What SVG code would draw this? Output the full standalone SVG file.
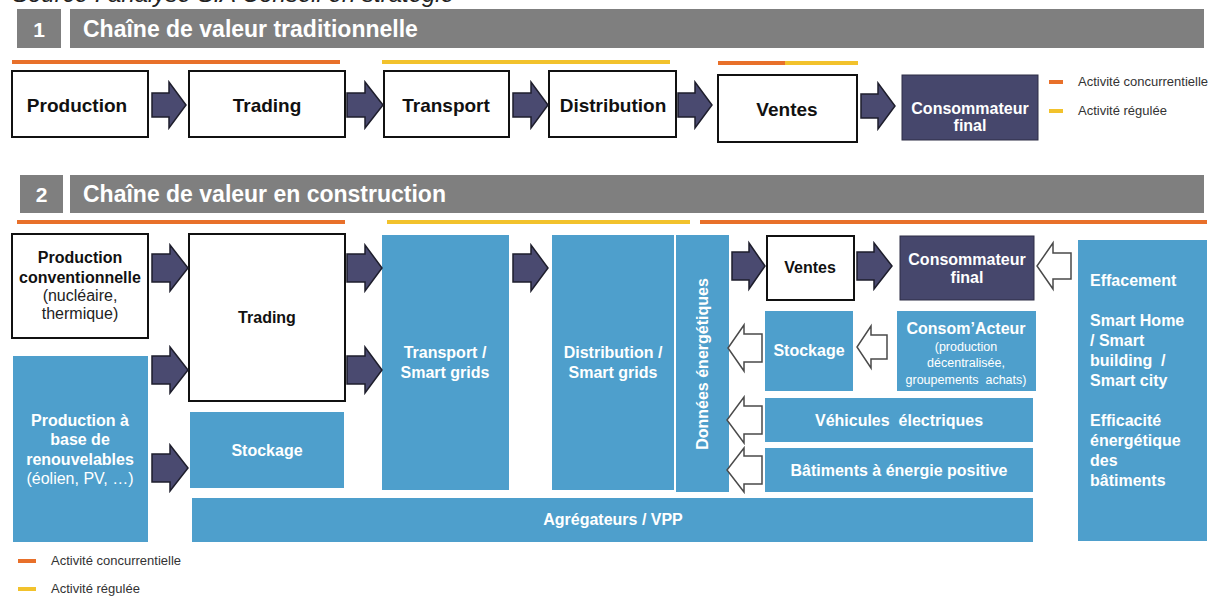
<svg xmlns="http://www.w3.org/2000/svg" width="1211" height="596" viewBox="0 0 1211 596">
  <style>
    text { font-family: "Liberation Sans", Arial, sans-serif; }
    .hdr { fill: #7f7f7f; }
    .hdrtxt { fill: #ffffff; font-weight: bold; font-size: 23px; }
    .num { fill: #ffffff; font-weight: bold; font-size: 21px; text-anchor: middle; }
    .wbox { fill: #ffffff; stroke: #111111; stroke-width: 2; }
    .navy { fill: #46476c; stroke: #2c2d45; stroke-width: 1; }
    .blue { fill: #4e9fcc; }
    .t1 { font-weight: bold; font-size: 19px; fill: #111111; text-anchor: middle; }
    .t2 { font-weight: bold; font-size: 16px; fill: #111111; text-anchor: middle; }
    .t2r { font-size: 16px; fill: #222222; text-anchor: middle; }
    .w15 { font-weight: bold; font-size: 16px; fill: #ffffff; text-anchor: middle; }
    .w16 { font-weight: bold; font-size: 16px; fill: #ffffff; text-anchor: middle; }
    .w16l { font-weight: bold; font-size: 16px; fill: #ffffff; }
    .w16r { font-size: 16px; fill: #ffffff; text-anchor: middle; }
    .wsm { font-size: 12.5px; fill: #ffffff; text-anchor: middle; }
    .leg { font-size: 13px; fill: #333333; }
    .orange { stroke: #e8702a; stroke-width: 4; }
    .yellow { stroke: #f2c22c; stroke-width: 4; }
    .fa { fill: #4a4a70; stroke: #1e1e2c; stroke-width: 1.5; stroke-linejoin: miter; }
    .ha { fill: #ffffff; stroke: #4a4a4a; stroke-width: 1.5; stroke-linejoin: miter; }
  </style>

  <!-- source line, cut at the top edge -->
  <text x="12" y="2" font-size="24" font-style="italic" fill="#222222">Source : analyse SIA Conseil en stratégie</text>

  <!-- ===== Section 1 : traditional chain ===== -->
  <g id="header-1">
    <rect class="hdr" x="17" y="9" width="44" height="39"/>
    <text class="num" x="39" y="37">1</text>
    <rect class="hdr" x="70" y="9" width="1134" height="39"/>
    <text class="hdrtxt" x="83" y="37">Chaîne de valeur traditionnelle</text>
  </g>

  <g id="activity-bars-1">
    <line class="orange" x1="12" y1="62" x2="340" y2="62"/>
    <line class="yellow" x1="382" y1="62" x2="670" y2="62"/>
    <line class="orange" x1="718" y1="63" x2="785" y2="63"/>
    <line class="yellow" x1="785" y1="63" x2="858" y2="63"/>
  </g>

  <g id="s1-production">
    <rect class="wbox" x="12" y="71" width="136" height="66"/>
    <text class="t1" x="77" y="112">Production</text>
  </g>
  <g id="s1-trading">
    <rect class="wbox" x="189" y="71" width="156" height="66"/>
    <text class="t1" x="267" y="112">Trading</text>
  </g>
  <g id="s1-transport">
    <rect class="wbox" x="384" y="71" width="125" height="66"/>
    <text class="t1" x="446" y="112">Transport</text>
  </g>
  <g id="s1-distribution">
    <rect class="wbox" x="549" y="71" width="127" height="66"/>
    <text class="t1" x="613" y="112">Distribution</text>
  </g>
  <g id="s1-ventes">
    <rect class="wbox" x="718" y="75" width="139" height="67"/>
    <text class="t1" x="787" y="116">Ventes</text>
  </g>
  <g id="s1-consommateur">
    <rect class="navy" x="902" y="75" width="136" height="65"/>
    <text class="w15" x="970" y="114">Consommateur</text>
    <text class="w15" x="970" y="131">final</text>
  </g>

  <g id="legend-top">
    <line class="orange" x1="1049" y1="82" x2="1063" y2="82"/>
    <text class="leg" x="1078" y="86">Activité concurrentielle</text>
    <line class="yellow" x1="1049" y1="111" x2="1063" y2="111"/>
    <text class="leg" x="1078" y="115">Activité régulée</text>
  </g>

  <!-- ===== Section 2 : chain under construction ===== -->
  <g id="header-2">
    <rect class="hdr" x="20" y="175" width="43" height="38"/>
    <text class="num" x="41.5" y="202">2</text>
    <rect class="hdr" x="70" y="175" width="1134" height="38"/>
    <text class="hdrtxt" x="83" y="202">Chaîne de valeur en construction</text>
  </g>

  <g id="activity-bars-2">
    <line class="orange" x1="17" y1="222" x2="345" y2="222"/>
    <line class="yellow" x1="387" y1="222" x2="690" y2="222"/>
    <line class="orange" x1="700" y1="222" x2="1207" y2="222"/>
  </g>

  <g id="prod-conv">
    <rect class="wbox" x="12" y="234" width="136" height="104"/>
    <text class="t2" x="80" y="263">Production</text>
    <text class="t2" x="80" y="283">conventionnelle</text>
    <text class="t2r" x="80" y="301">(nucléaire,</text>
    <text class="t2r" x="80" y="319">thermique)</text>
  </g>

  <g id="prod-renouv">
    <rect class="blue" x="13" y="356" width="135" height="186"/>
    <text class="w16" x="80" y="426">Production à</text>
    <text class="w16" x="80" y="445">base de</text>
    <text class="w16" x="80" y="465">renouvelables</text>
    <text class="w16r" x="80" y="484">(éolien, PV, …)</text>
  </g>

  <g id="trading">
    <rect class="wbox" x="189" y="234" width="156" height="167" stroke-width="2.5"/>
    <text class="t2" x="267" y="323">Trading</text>
  </g>

  <g id="stockage-amont">
    <rect class="blue" x="190" y="412" width="154" height="76"/>
    <text class="w16" x="267" y="456">Stockage</text>
  </g>

  <g id="transport">
    <rect class="blue" x="382" y="235" width="127" height="255"/>
    <text class="w16" x="445" y="358">Transport /</text>
    <text class="w16" x="445" y="378">Smart grids</text>
  </g>

  <g id="distribution">
    <rect class="blue" x="552" y="235" width="122" height="255"/>
    <text class="w16" x="613" y="358">Distribution /</text>
    <text class="w16" x="613" y="378">Smart grids</text>
  </g>

  <g id="donnees">
    <rect class="blue" x="676" y="235" width="53" height="257"/>
    <text class="w16" transform="translate(708,364) rotate(-90)">Données énergétiques</text>
  </g>

  <g id="ventes">
    <rect class="wbox" x="767" y="236" width="87" height="64"/>
    <text class="t2" x="810" y="273">Ventes</text>
  </g>

  <g id="consommateur">
    <rect class="navy" x="900" y="236" width="134" height="64"/>
    <text class="w16" x="967" y="265">Consommateur</text>
    <text class="w16" x="967" y="283">final</text>
  </g>

  <g id="stockage-aval">
    <rect class="blue" x="765" y="311" width="88" height="80"/>
    <text class="w16" x="809" y="356">Stockage</text>
  </g>

  <g id="consomacteur">
    <rect class="blue" x="897" y="311" width="139" height="80"/>
    <text class="w16" x="966" y="334" font-size="17">Consom’Acteur</text>
    <text class="wsm" x="966" y="351">(production</text>
    <text class="wsm" x="966" y="367">décentralisée,</text>
    <text class="wsm" x="966" y="384" xml:space="preserve">groupements  achats)</text>
  </g>

  <g id="vehicules">
    <rect class="blue" x="765" y="398" width="268" height="44"/>
    <text class="w16" x="899" y="426" xml:space="preserve">Véhicules  électriques</text>
  </g>

  <g id="batiments">
    <rect class="blue" x="765" y="448" width="268" height="44"/>
    <text class="w16" x="899" y="476">Bâtiments à énergie positive</text>
  </g>

  <g id="agregateurs">
    <rect class="blue" x="192" y="498" width="841" height="44"/>
    <text class="w16" x="613" y="525">Agrégateurs / VPP</text>
  </g>

  <g id="effacement">
    <rect class="blue" x="1078" y="240" width="129" height="301"/>
    <text class="w16l" x="1090" y="286">Effacement</text>
    <text class="w16l" x="1090" y="326">Smart Home</text>
    <text class="w16l" x="1090" y="346">/ Smart</text>
    <text class="w16l" x="1090" y="366" xml:space="preserve">building  /</text>
    <text class="w16l" x="1090" y="386">Smart city</text>
    <text class="w16l" x="1090" y="426">Efficacité</text>
    <text class="w16l" x="1090" y="446">énergétique</text>
    <text class="w16l" x="1090" y="466">des</text>
    <text class="w16l" x="1090" y="486">bâtiments</text>
  </g>

  <g id="legend-bottom">
    <line class="orange" x1="18" y1="561" x2="36" y2="561"/>
    <text class="leg" x="51" y="565">Activité concurrentielle</text>
    <line class="yellow" x1="18" y1="589" x2="36" y2="589"/>
    <text class="leg" x="51" y="593">Activité régulée</text>
  </g>

  <!-- ===== Connectors: block arrows ===== -->
  <g id="connectors">
    <!-- section 1 chain -->
    <path class="fa" d="M152,93 L169,93 L169,82 L186,105 L169,128 L169,117 L152,117 Z"/>
    <path class="fa" d="M347,93 L365,93 L365,82 L383,105 L365,128 L365,117 L347,117 Z"/>
    <path class="fa" d="M513,93 L531,93 L531,82 L548,105 L531,128 L531,117 L513,117 Z"/>
    <path class="fa" d="M678,93 L695,93 L695,82 L712,105 L695,128 L695,117 L678,117 Z"/>
    <path class="fa" d="M861,94 L878,94 L878,83 L895,106 L878,129 L878,118 L861,118 Z"/>

    <!-- section 2 filled arrows -->
    <path class="fa" d="M152,254 L170,254 L170,245 L188,268 L170,291 L170,282 L152,282 Z"/>
    <path class="fa" d="M152,356 L170,356 L170,347 L188,370 L170,393 L170,384 L152,384 Z"/>
    <path class="fa" d="M152,454 L170,454 L170,445 L188,468 L170,491 L170,482 L152,482 Z"/>
    <path class="fa" d="M347,254 L365,254 L365,245 L382,268 L365,291 L365,282 L347,282 Z"/>
    <path class="fa" d="M347,356 L365,356 L365,347 L382,370 L365,393 L365,384 L347,384 Z"/>
    <path class="fa" d="M513,254 L531,254 L531,245 L548,268 L531,291 L531,282 L513,282 Z"/>
    <path class="fa" d="M732,252 L749,252 L749,243 L765,266 L749,289 L749,280 L732,280 Z"/>
    <path class="fa" d="M857,252 L874,252 L874,243 L892,266 L874,289 L874,280 L857,280 Z"/>

    <!-- section 2 hollow arrows (pointing left) -->
    <path class="ha" d="M1071,253 L1053,253 L1053,243 L1037,266 L1053,289 L1053,279 L1071,279 Z"/>
    <path class="ha" d="M887,335 L871,335 L871,326 L857,347 L871,368 L871,359 L887,359 Z"/>
    <path class="ha" d="M762,334 L744,334 L744,325 L728,348 L744,371 L744,362 L762,362 Z"/>
    <path class="ha" d="M762,406 L744,406 L744,397 L727,420 L744,443 L744,434 L762,434 Z"/>
    <path class="ha" d="M762,456 L744,456 L744,448 L727,470 L744,492 L744,484 L762,484 Z"/>
  </g>
</svg>
